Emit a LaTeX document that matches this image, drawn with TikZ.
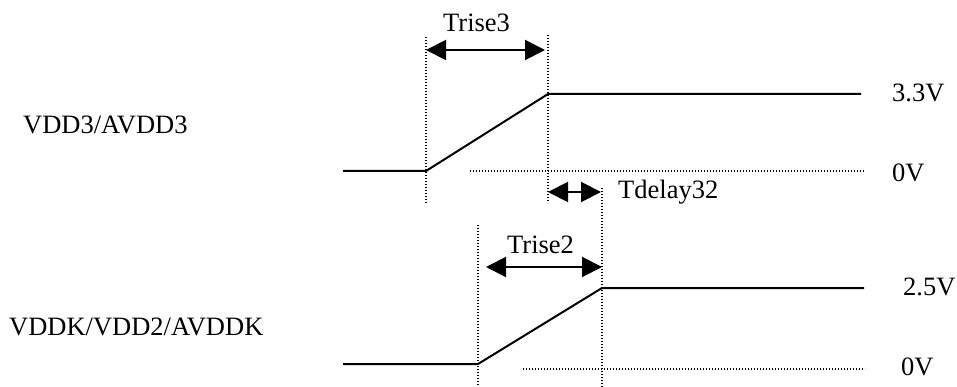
\documentclass[tikz,border=0pt]{standalone}
\usepackage{fontspec}
\setmainfont{Liberation Serif}
\usetikzlibrary{arrows.meta}
\tikzset{
  wave/.style={line width=2pt, line join=round},
  dotline/.style={line width=1.5pt, dash pattern=on 1.3pt off 1.7pt},
  dim/.style={line width=2pt, {Triangle[length=20pt,width=20pt]}-{Triangle[length=20pt,width=20pt]}},
  lbl/.style={anchor=base west, inner sep=0pt, font=\fontsize{26.5}{30}\selectfont}
}
\begin{document}
\begin{tikzpicture}[x=1pt,y=-1pt]
\useasboundingbox (0,0) rectangle (957,387);
% top waveform points
\coordinate (a0) at (343,171);
\coordinate (a1) at (426,171);
\coordinate (a2) at (548,94);
\coordinate (a3) at (861,94);
% bottom waveform points
\coordinate (b0) at (343,364);
\coordinate (b1) at (478,364);
\coordinate (b2) at (602,288);
\coordinate (b3) at (864,288);
% dotted guide ends
\coordinate (z1s) at (470,171);
\coordinate (z1e) at (865,171);
\coordinate (z2s) at (523,369);
\coordinate (z2e) at (865,369);
\coordinate (v1t) at (426,37);
\coordinate (v1b) at (426,203);
\coordinate (v2t) at (548,35);
\coordinate (v2b) at (548,203);
\coordinate (v3t) at (478,225);
\coordinate (v3b) at (478,387);
\coordinate (v4t) at (602,188);
\coordinate (v4b) at (602,387);
% arrow ends
\coordinate (r3l) at (426,50);
\coordinate (r3r) at (545,50);
\coordinate (tdl) at (548,192);
\coordinate (tdr) at (601,192);
\coordinate (r2l) at (486,267);
\coordinate (r2r) at (602,267);

\draw[wave] (a0) -- (a1) -- (a2) -- (a3);
\draw[wave] (b0) -- (b1) -- (b2) -- (b3);

\draw[dotline] (z1s) -- (z1e);
\draw[dotline] (z2s) -- (z2e);
\draw[dotline] (v1t) -- (v1b);
\draw[dotline] (v2t) -- (v2b);
\draw[dotline] (v3t) -- (v3b);
\draw[dotline] (v4t) -- (v4b);

\draw[dim] (r3l) -- (r3r);
\draw[dim] (tdl) -- (tdr);
\draw[dim] (r2l) -- (r2r);

\node[lbl] (n1) at (23,134) {VDD3/AVDD3};
\node[lbl] (n2) at (9,335) {VDDK/VDD2/AVDDK};
\node[lbl] (t3) at (443,32) {Trise3};
\node[lbl] (td) at (618,199) {Tdelay32};
\node[lbl] (t2) at (507,253) {Trise2};
\node[lbl] (h1) at (892,102) {3.3V};
\node[lbl] (l1) at (892,182) {0V};
\node[lbl] (h2) at (903,295) {2.5V};
\node[lbl] (l2) at (901,375) {0V};
\end{tikzpicture}
\end{document}
